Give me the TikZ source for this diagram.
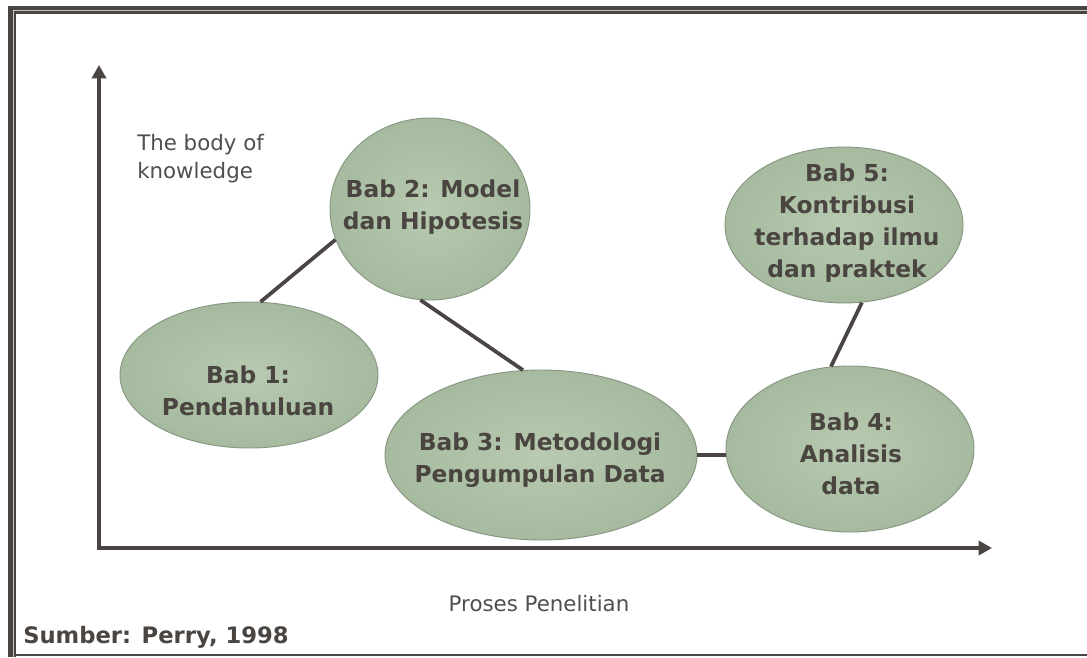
\documentclass[tikz,border=0pt]{standalone}
\usepackage{fontspec}
\setmainfont{DejaVu Sans}
\usetikzlibrary{shapes.geometric,arrows.meta}

\definecolor{frame}{HTML}{4A4442}
\definecolor{framelight}{HTML}{C9C3C0}
\definecolor{axiscol}{HTML}{4A4442}
\definecolor{bubbleout}{HTML}{A5BA9E}
\definecolor{bubblein}{HTML}{B8CAB1}
\definecolor{bubbleedge}{HTML}{879782}
\definecolor{ink}{HTML}{4A4540}
\definecolor{plain}{HTML}{4F4F4F}

\begin{document}
\begin{tikzpicture}[x=0.75pt,y=-0.75pt,
  bubble/.style={ellipse, draw=bubbleedge, line width=0.7pt,
    inner color=bubblein, outer color=bubbleout, inner sep=0pt},
  bubbletext/.style={text=ink, font=\fontsize{17.5}{24}\selectfont\bfseries,
    align=center, inner sep=0pt},
  link/.style={draw=axiscol, line width=2.8pt},
  axes/.style={draw=axiscol, line width=3.2pt, line join=miter,
    {Triangle[length=10pt,width=10.5pt]}-{Triangle[length=10pt,width=10.5pt]}},
  plaintext/.style={text=plain, font=\fontsize{16}{21}\selectfont,
    align=left, inner sep=0pt},
  source/.style={text=ink, font=\fontsize{17}{20}\selectfont\bfseries, inner sep=0pt}]

\useasboundingbox (0,0) rectangle (1087,657);
\fill[white] (0,0) rectangle (1087,657);

% double frame on the top, left and bottom edges
\fill[frame] (8,6) rectangle (1087,9.8);
\fill[frame] (8,6) rectangle (12.5,657);
\fill[framelight] (12.5,9.8) rectangle (1087,11.3);
\fill[framelight] (12.5,9.8) rectangle (13.7,657);
\fill[frame] (13.7,11.3) rectangle (1087,13.5);
\fill[frame] (13.7,11.3) rectangle (15.5,657);
\fill[frame] (13.7,654) rectangle (1087,656);

% axes
\coordinate (origin) at (99,548);
\coordinate (ytip) at (99,65);
\coordinate (xtip) at (992,548);
\draw[axes] (ytip) -- (origin) -- (xtip);

\node[plaintext, anchor=north west] (ylabel) at (137,134) {The body of\\knowledge};
\node[plaintext] (xlabel) at (539,604) {Proses Penelitian};

% chapters
\node[bubble, minimum width=193.5pt, minimum height=109.5pt] (b1) at (249,375) {};
\node[bubble, minimum width=150pt, minimum height=136.5pt] (b2) at (430,209) {};
\node[bubble, minimum width=234pt, minimum height=127.5pt] (b3) at (541,455) {};
\node[bubble, minimum width=186pt, minimum height=124.5pt] (b4) at (850,449) {};
\node[bubble, minimum width=178.5pt, minimum height=117pt] (b5) at (844,225) {};

% links between chapters
\draw[link] (b1.81) -- (b2.198);
\draw[link] (b2.264) -- (b3.102);
\draw[link] (b3.east) -- (b4.west |- b3.east);
\draw[link] (b4.103) -- (b5.283);

\node[bubbletext] (t1) at (248,391) {Bab 1:\\Pendahuluan};
\node[bubbletext] (t2) at (433,207) {Bab 2: Model\\dan Hipotesis};
\node[bubbletext] (t3) at (540,460) {Bab 3: Metodologi\\Pengumpulan Data};
\node[bubbletext] (t4) at (851,454) {Bab 4:\\Analisis\\data};
\node[bubbletext] (t5) at (847,223) {Bab 5:\\Kontribusi\\terhadap ilmu\\dan praktek};

\node[source, anchor=base west] (src) at (23,643) {Sumber: Perry, 1998};
\end{tikzpicture}
\end{document}
